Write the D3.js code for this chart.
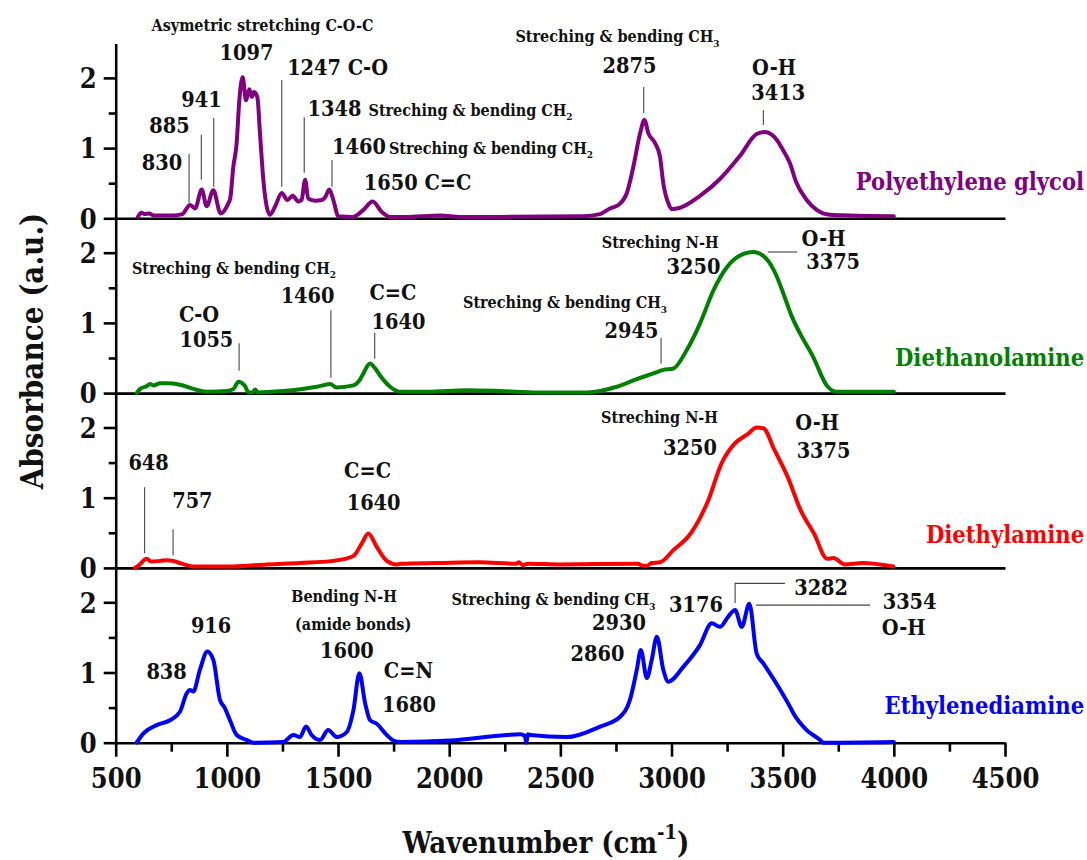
<!DOCTYPE html>
<html>
<head>
<meta charset="utf-8">
<script src="https://cdn.jsdelivr.net/npm/d3@7"></script>
<style>
  body { margin: 0; background: #fff; }
  svg { display: block; }
</style>
</head>
<body>
<svg id="chart" width="1087" height="860"></svg>
<script>
// ---------------- DATA ----------------
const wavenumberTicks = [500, 1000, 1500, 2000, 2500, 3000, 3500, 4000, 4500];
const wavenumberMinorTicks = [750, 1250, 1750, 2250, 2750, 3250, 3750, 4250];
const absorbanceTicks = [0, 1, 2];
const absorbanceMinorTicks = [0.5, 1.5];

const seriesNames = ["Polyethylene glycol", "Diethanolamine", "Diethylamine", "Ethylenediamine"];

const pegWavenumber = [600,615,630,650,670,700,760,800,834,857,887,909,939,972,1006,1015,1029,1044,1056,1071,1086,1101,1112,1122,1137,1149,1164,1179,1194,1217,1247,1272,1296,1321,1336,1352,1366,1397,1427,1442,1461,1479,1501,1568,1614,1656,1697,1735,1800,1960,2050,2229,2602,2678,2723,2761,2799,2828,2858,2878,2896,2926,2948,2963,2986,3001,3038,3128,3218,3308,3383,3420,3473,3500,3533,3560,3608,3653,3713,3800,4000];
const pegAbsorbance  = [0.02,0.08,0.06,0.07,0.04,0.04,0.04,0.06,0.19,0.14,0.41,0.17,0.40,0.07,0.21,0.28,0.73,1.07,1.68,2.01,1.68,1.84,1.73,1.80,1.73,1.21,0.55,0.17,0.05,0.17,0.36,0.26,0.32,0.24,0.26,0.55,0.28,0.25,0.26,0.30,0.41,0.26,0.03,0.02,0.12,0.24,0.09,0.02,0.02,0.04,0.02,0.02,0.03,0.06,0.14,0.19,0.36,0.73,1.20,1.40,1.21,1.07,0.88,0.50,0.21,0.13,0.15,0.32,0.56,0.89,1.20,1.23,1.12,0.98,0.78,0.52,0.26,0.12,0.05,0.04,0.03];

const deaWavenumber = [594,610,640,654,669,700,729,789,849,909,1000,1030,1052,1070,1082,1097,1115,1127,1140,1200,1254,1404,1464,1494,1569,1600,1614,1644,1665,1689,1734,1779,1900,2079,2229,2400,2619,2754,2844,2919,2963,3008,3068,3128,3188,3248,3308,3368,3428,3468,3503,3540,3578,3638,3698,3743,3850,4000];
const deaAbsorbance  = [0.00,0.06,0.10,0.13,0.11,0.14,0.14,0.12,0.06,0.02,0.03,0.06,0.16,0.14,0.10,0.01,0.01,0.05,0.01,0.02,0.03,0.09,0.13,0.08,0.11,0.20,0.28,0.42,0.36,0.25,0.09,0.02,0.02,0.04,0.03,0.01,0.01,0.09,0.20,0.28,0.33,0.35,0.61,0.99,1.46,1.79,1.96,2.01,1.91,1.70,1.42,1.10,0.85,0.51,0.11,0.02,0.02,0.02];

const detaWavenumber = [587,605,639,662,700,729,757,797,849,1029,1179,1329,1479,1569,1607,1636,1674,1719,1764,1779,1950,2136,2300,2314,2330,2354,2500,2849,2870,2890,2910,2948,3007,3086,3165,3225,3284,3344,3383,3413,3463,3522,3581,3641,3700,3729,3779,3859,3998];
const detaAbsorbance  = [0.00,0.04,0.13,0.09,0.10,0.11,0.10,0.06,0.02,0.02,0.05,0.07,0.10,0.17,0.35,0.49,0.30,0.10,0.05,0.06,0.07,0.08,0.06,0.08,0.04,0.06,0.05,0.06,0.03,0.03,0.07,0.08,0.25,0.49,0.96,1.49,1.77,1.91,2.00,1.99,1.68,1.30,0.82,0.49,0.13,0.14,0.05,0.07,0.02];

const edaWavenumber = [594,624,684,744,789,819,834,849,879,912,939,969,990,1014,1044,1089,1119,1254,1299,1329,1356,1381,1419,1456,1494,1539,1569,1596,1622,1644,1674,1719,1756,1779,2004,2259,2319,2340,2347,2354,2364,2529,2679,2769,2814,2844,2862,2889,2911,2934,2963,2986,3053,3128,3181,3218,3256,3286,3316,3350,3383,3413,3480,3533,3548,3608,3668,3683,4000];
const edaAbsorbance  = [0.00,0.13,0.25,0.32,0.44,0.70,0.75,0.73,1.04,1.30,1.18,0.61,0.50,0.32,0.11,0.04,0.00,0.01,0.11,0.08,0.23,0.11,0.04,0.18,0.08,0.15,0.46,0.99,0.56,0.32,0.27,0.11,0.02,0.01,0.03,0.11,0.12,0.10,0.00,0.12,0.11,0.08,0.23,0.37,0.62,1.04,1.32,0.92,1.18,1.51,1.04,0.87,1.08,1.39,1.70,1.65,1.80,1.89,1.65,1.98,1.27,1.13,0.80,0.51,0.42,0.18,0.04,0.00,0.01];

// series label anchor (right end), per panel absorbance level
const seriesLabelWavenumber = 4856;
const seriesLabelAbsorbance = [0.40, 0.38, 0.36, 0.41];

// Peak annotations: [text, wavenumber (centre), absorbance (baseline)]
const pegNotes = [
  ["Asymetric stretching C-O-C", 1160, 2.67],
  ["1097", 1088, 2.25],
  ["1247 C-O", 1498, 2.04],
  ["941", 886, 1.59],
  ["885", 742, 1.22],
  ["830", 708, 0.69],
  ["1348", 1484, 1.46],
  ["Streching & bending CH_2", 2096, 1.46],
  ["1460", 1594, 0.92],
  ["Streching & bending CH_2", 2188, 0.92],
  ["1650 C=C", 1858, 0.40],
  ["Streching & bending CH_3", 2757, 2.51],
  ["2875", 2811, 2.07],
  ["O-H", 3461, 2.04],
  ["3413", 3480, 1.68]
];
const deaNotes = [
  ["Streching & bending CH_2", 1032, 1.70],
  ["C-O", 875, 1.01],
  ["1055", 908, 0.65],
  ["1460", 1363, 1.29],
  ["C=C", 1747, 1.32],
  ["1640", 1772, 0.92],
  ["Streching N-H", 2949, 2.06],
  ["3250", 3099, 1.70],
  ["Streching & bending CH_3", 2521, 1.21],
  ["2945", 2820, 0.79],
  ["O-H", 3684, 2.10],
  ["3375", 3727, 1.77]
];
const detaNotes = [
  ["648", 648, 1.39],
  ["757", 845, 0.85],
  ["C=C", 1633, 1.28],
  ["1640", 1660, 0.82],
  ["Streching N-H", 2946, 2.06],
  ["3250", 3083, 1.61],
  ["O-H", 3655, 1.96],
  ["3375", 3684, 1.56]
];
const edaNotes = [
  ["916", 929, 1.56],
  ["838", 729, 0.91],
  ["Bending N-H", 1527, 2.00],
  ["(amide bonds)", 1568, 1.61],
  ["1600", 1540, 1.21],
  ["C=N", 1817, 0.92],
  ["1680", 1819, 0.44],
  ["Streching & bending CH_3", 2469, 1.96],
  ["2930", 2764, 1.61],
  ["2860", 2667, 1.16],
  ["3176", 3110, 1.86],
  ["3282", 3673, 2.10],
  ["3354", 4071, 1.90],
  ["O-H", 4044, 1.53]
];

// Leader lines: lists of [wavenumber, absorbance] points
const pegLeaders = [
  [[830,0.92],[830,0.22]], [[885,1.19],[885,0.55]], [[941,1.43],[941,0.45]],
  [[1247,1.97],[1247,0.45]], [[1348,1.44],[1348,0.65]], [[1473,0.83],[1473,0.45]],
  [[2875,1.87],[2875,1.50]], [[3413,1.54],[3413,1.33]]
];
const deaLeaders = [
  [[1055,0.71],[1055,0.32]], [[1468,1.18],[1468,0.22]], [[1665,0.86],[1665,0.49]],
  [[2953,0.79],[2953,0.42]], [[3434,2.01],[3565,2.01]]
];
const detaLeaders = [
  [[630,1.15],[630,0.21]], [[758,0.55],[758,0.18]]
];
const edaLeaders = [
  [[3286,1.99],[3286,2.27],[3510,2.27]], [[3380,1.96],[3893,1.96]]
];

// ---------------- LAYOUT / STYLE ----------------
const FONT = '"DejaVu Serif Condensed","Liberation Serif",serif';
const seriesColors = ["#800080", "#008000", "#ff0000", "#0000ff"];
const W = 1087, H = 860;
const plotLeft = 115.7, plotRight = 1005, plotTop = 43.5, panelH = 174.8;
const yMax = 2.49;

const svg = d3.select("#chart");
svg.append("rect").attr("width", W).attr("height", H).attr("fill", "#fff");

const x = d3.scaleLinear().domain([500, 4500]).range([plotLeft, plotRight]);

const panels = [
  { wn: pegWavenumber,  ab: pegAbsorbance,  notes: pegNotes,  leaders: pegLeaders },
  { wn: deaWavenumber,  ab: deaAbsorbance,  notes: deaNotes,  leaders: deaLeaders },
  { wn: detaWavenumber, ab: detaAbsorbance, notes: detaNotes, leaders: detaLeaders },
  { wn: edaWavenumber,  ab: edaAbsorbance,  notes: edaNotes,  leaders: edaLeaders }
].map((p, i) => Object.assign(p, {
  name: seriesNames[i],
  color: seriesColors[i],
  labelAb: seriesLabelAbsorbance[i],
  y: d3.scaleLinear().domain([0, yMax]).range([plotTop + (i + 1) * panelH, plotTop + i * panelH])
}));

const axisStroke = 2.6;

function styleAxis(g) {
  g.selectAll("path.domain").attr("stroke", "#000").attr("stroke-width", axisStroke);
  g.selectAll(".tick line").attr("stroke", "#000").attr("stroke-width", axisStroke);
  g.selectAll("text").attr("font-family", FONT).attr("font-weight", "bold").attr("fill", "#111");
}

panels.forEach((p, i) => {
  const y = p.y;
  const gy = svg.append("g").attr("transform", `translate(${plotLeft},0)`)
    .call(d3.axisLeft(y).tickValues(absorbanceTicks).tickSize(12).tickSizeOuter(0).tickFormat(d3.format("d")));
  styleAxis(gy);
  gy.selectAll("text").attr("font-size", 27).attr("x", -19).attr("dy", "0.36em");
  const gym = svg.append("g").attr("transform", `translate(${plotLeft},0)`)
    .call(d3.axisLeft(y).tickValues(absorbanceMinorTicks).tickSize(7).tickSizeOuter(0).tickFormat(""));
  styleAxis(gym);
  gym.select("path.domain").remove();

  if (i < panels.length - 1) {
    const gb = svg.append("g").attr("transform", `translate(0,${y(0)})`)
      .call(d3.axisBottom(x).tickValues([]).tickSizeOuter(0));
    styleAxis(gb);
  } else {
    const gx = svg.append("g").attr("transform", `translate(0,${y(0)})`)
      .call(d3.axisBottom(x).tickValues(wavenumberTicks).tickSize(14).tickSizeOuter(0).tickFormat(d3.format("d")));
    styleAxis(gx);
    gx.selectAll("text").attr("font-size", 27).attr("y", 45.5).attr("dy", 0);
    const gxm = svg.append("g").attr("transform", `translate(0,${y(0)})`)
      .call(d3.axisBottom(x).tickValues(wavenumberMinorTicks).tickSize(9).tickSizeOuter(0).tickFormat(""));
    styleAxis(gxm);
    gxm.select("path.domain").remove();
  }
});

// spectra
panels.forEach(p => {
  const pts = p.wn.map((w, k) => [w, p.ab[k]]);
  const line = d3.line().x(d => x(d[0])).y(d => p.y(d[1])).curve(d3.curveMonotoneX);
  svg.append("path").datum(pts)
    .attr("d", line)
    .attr("fill", "none")
    .attr("stroke", p.color)
    .attr("stroke-width", 4)
    .attr("stroke-linejoin", "round")
    .attr("stroke-linecap", "round");
});

// leaders
panels.forEach(p => {
  const line = d3.line().x(d => x(d[0])).y(d => p.y(d[1]));
  svg.append("g").selectAll("path").data(p.leaders).join("path")
    .attr("d", line)
    .attr("fill", "none")
    .attr("stroke", "#444")
    .attr("stroke-width", 1.1);
});

// annotations
function addLabel(g, text, px, py, size) {
  const t = g.append("text")
    .attr("x", px).attr("y", py)
    .attr("text-anchor", "middle")
    .attr("font-family", FONT)
    .attr("font-weight", "bold")
    .attr("font-size", size)
    .attr("fill", "#111");
  const m = text.match(/^(.*)_(\d)$/);
  if (m) {
    t.append("tspan").text(m[1]);
    t.append("tspan").attr("font-size", size * 0.62).attr("dy", size * 0.28).text(m[2]);
  } else {
    t.text(text);
  }
}
panels.forEach(p => {
  const g = svg.append("g");
  p.notes.forEach(([txt, wn, ab]) => {
    const small = /[a-z]/.test(txt);
    addLabel(g, txt, x(wn), p.y(ab), small ? 16 : 21.5);
  });
  svg.append("text")
    .attr("x", x(seriesLabelWavenumber))
    .attr("y", p.y(p.labelAb))
    .attr("text-anchor", "end")
    .attr("font-family", FONT).attr("font-weight", "bold")
    .attr("font-size", 23.5).attr("fill", p.color)
    .text(p.name);
});

// axis titles
svg.append("text")
  .attr("transform", `translate(43,351) rotate(-90)`)
  .attr("text-anchor", "middle")
  .attr("font-family", FONT).attr("font-weight", "bold").attr("font-size", 31).attr("fill", "#111")
  .text("Absorbance (a.u.)");

const xt = svg.append("text")
  .attr("x", 546).attr("y", 853)
  .attr("text-anchor", "middle")
  .attr("font-family", FONT).attr("font-weight", "bold").attr("font-size", 29).attr("fill", "#111");
xt.append("tspan").text("Wavenumber (cm");
xt.append("tspan").attr("font-size", 20).attr("dy", -14).text("-1");
xt.append("tspan").attr("dy", 14).text(")");
</script>
</body>
</html>
